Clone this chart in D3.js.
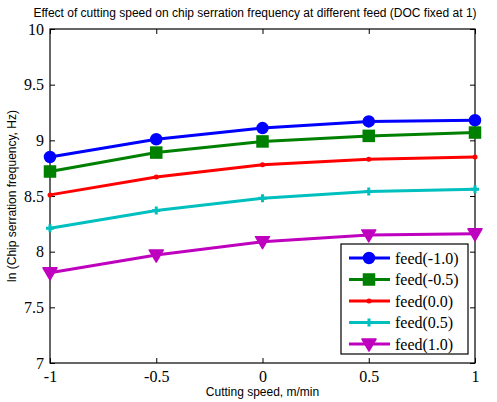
<!DOCTYPE html>
<html>
<head>
<meta charset="utf-8">
<script src="https://cdn.jsdelivr.net/npm/d3@7"></script>
<style>
  body { margin: 0; background: #fff; }
  svg { display: block; }
</style>
</head>
<body>
<script>
// cutting speed levels (coded)
var speeds = [-1, -0.5, 0, 0.5, 1];
var xTicks = [-1, -0.5, 0, 0.5, 1];
var yTicks = [7, 7.5, 8, 8.5, 9, 9.5, 10];

// ln(chip serration frequency) for each feed level
var feedM10 = [8.85, 9.01, 9.11, 9.17, 9.18];
var feedM05 = [8.72, 8.89, 8.99, 9.04, 9.07];
var feed00  = [8.51, 8.67, 8.78, 8.83, 8.85];
var feed05  = [8.21, 8.37, 8.48, 8.54, 8.56];
var feed10  = [7.81, 7.97, 8.09, 8.15, 8.16];

var seriesNames = ['feed(-1.0)', 'feed(-0.5)', 'feed(0.0)', 'feed(0.5)', 'feed(1.0)'];
var seriesColors = ['#0000ff', '#008000', '#ff0000', '#00bfbf', '#bf00bf'];
var seriesMarkers = ['circle', 'square', 'dot', 'plus', 'tri'];

var series = [feedM10, feedM05, feed00, feed05, feed10].map(function(v, i) {
  return { name: seriesNames[i], color: seriesColors[i], marker: seriesMarkers[i],
           values: v.map(function(y, j) { return { x: speeds[j], y: y }; }) };
});

var W = 497, H = 402;
var m = { top: 29, right: 22, bottom: 39, left: 50 };
var w = W - m.left - m.right, h = H - m.top - m.bottom;

var svg = d3.select('body').append('svg').attr('width', W).attr('height', H);
var g = svg.append('g').attr('transform', 'translate(' + m.left + ',' + m.top + ')');

var x = d3.scaleLinear().domain([-1, 1]).range([0, w]);
var y = d3.scaleLinear().domain([7, 10]).range([h, 0]);

var fmt = function(d) { return String(d); };
var tickFont = '"Liberation Serif", "Times New Roman", serif';

// axes with inward ticks on all four sides
var axB = g.append('g').attr('transform', 'translate(0,' + h + ')')
  .call(d3.axisBottom(x).tickValues(xTicks).tickFormat(fmt).tickSizeInner(-5).tickSizeOuter(0).tickPadding(8));
var axL = g.append('g')
  .call(d3.axisLeft(y).tickValues(yTicks).tickFormat(fmt).tickSizeInner(-5).tickSizeOuter(0).tickPadding(6));
var axT = g.append('g')
  .call(d3.axisTop(x).tickValues(xTicks).tickFormat('').tickSizeInner(-5).tickSizeOuter(0));
var axR = g.append('g').attr('transform', 'translate(' + w + ',0)')
  .call(d3.axisRight(y).tickValues(yTicks).tickFormat('').tickSizeInner(-5).tickSizeOuter(0));

[axB, axL, axT, axR].forEach(function(a) {
  a.select('.domain').remove();
  a.selectAll('line').attr('stroke', '#000');
  a.selectAll('text').attr('fill', '#000').style('font-family', tickFont).style('font-size', '16px');
});
axB.selectAll('text').attr('dy', '0.71em');

g.append('rect').attr('width', w).attr('height', h)
  .attr('fill', 'none').attr('stroke', '#000').attr('stroke-width', 1.2);

var line = d3.line().x(function(d) { return x(d.x); }).y(function(d) { return y(d.y); });

function drawMarker(sel, type, color) {
  if (type === 'circle') {
    sel.append('circle').attr('r', 5).attr('fill', color).attr('stroke', color).attr('stroke-width', 2.5);
  } else if (type === 'square') {
    sel.append('rect').attr('x', -5).attr('y', -5).attr('width', 10).attr('height', 10)
      .attr('fill', color).attr('stroke', color).attr('stroke-width', 2.5);
  } else if (type === 'dot') {
    sel.append('circle').attr('r', 2.5).attr('fill', color);
  } else if (type === 'plus') {
    sel.append('path').attr('d', 'M-4,0H4M0,-4V4').attr('stroke', color).attr('stroke-width', 3);
  } else if (type === 'tri') {
    sel.append('path').attr('d', 'M-7,-5L7,-5L0,7Z').attr('fill', color).attr('stroke', color).attr('stroke-width', 1.5).attr('stroke-linejoin', 'round');
  }
}

series.forEach(function(s) {
  g.append('path').datum(s.values).attr('d', line)
    .attr('fill', 'none').attr('stroke', s.color).attr('stroke-width', 3);
  g.selectAll(null).data(s.values).enter().append('g')
    .attr('transform', function(d) { return 'translate(' + x(d.x) + ',' + y(d.y) + ')'; })
    .each(function() { drawMarker(d3.select(this), s.marker, s.color); });
});

// legend
var lg = svg.append('g').attr('transform', 'translate(341,244)');
lg.append('rect').attr('width', 127).attr('height', 110)
  .attr('fill', '#fff').attr('stroke', '#000').attr('stroke-width', 1.2);
series.forEach(function(s, i) {
  var ly = 14 + i * 21.5;
  var row = lg.append('g').attr('transform', 'translate(0,' + ly + ')');
  row.append('line').attr('x1', 8).attr('x2', 49).attr('stroke', s.color).attr('stroke-width', 3);
  drawMarker(row.append('g').attr('transform', 'translate(28,0)'), s.marker, s.color);
  row.append('text').attr('x', 54).attr('dy', '0.35em').text(s.name)
    .style('font-family', tickFont).style('font-size', '16px');
});

// titles
svg.append('text').attr('x', 255).attr('y', 17).attr('text-anchor', 'middle')
  .style('font-family', '"Liberation Sans", Arial, sans-serif').style('font-size', '12px')
  .text('Effect of cutting speed on chip serration frequency at different feed (DOC fixed at 1)');
svg.append('text').attr('x', m.left + w / 2).attr('y', 396).attr('text-anchor', 'middle')
  .style('font-family', '"Liberation Sans", Arial, sans-serif').style('font-size', '12px')
  .text('Cutting speed, m/min');
svg.append('text').attr('transform', 'translate(16,' + (m.top + h / 2) + ') rotate(-90)')
  .attr('text-anchor', 'middle')
  .style('font-family', '"Liberation Sans", Arial, sans-serif').style('font-size', '12px')
  .text('ln (Chip serration frequency, Hz)');
</script>
</body>
</html>
